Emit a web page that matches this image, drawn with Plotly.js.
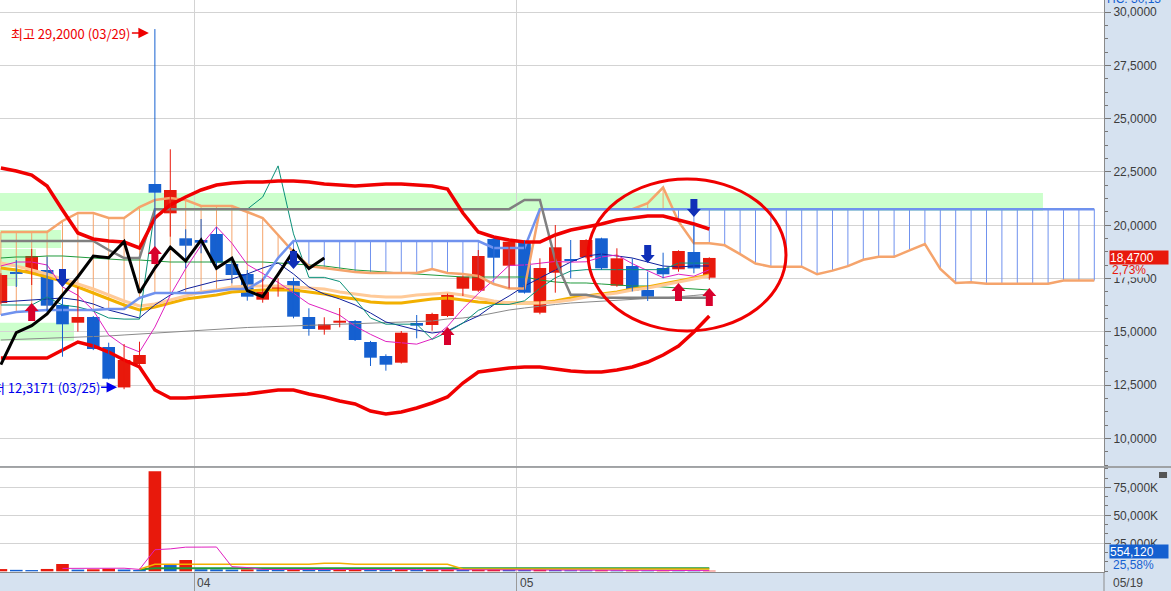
<!DOCTYPE html>
<html><head><meta charset="utf-8">
<script src="https://cdn.plot.ly/plotly-3.0.1.min.js"></script>
<style>html,body{margin:0;padding:0;background:#d6e2f0;}#chart{width:1171px;height:591px;}</style>
</head><body><div id="chart"></div>
<script>
// ---- candle data (price units) ----
const openP  = [16.358,17.780,17.764,17.905,16.264,15.434,15.702,14.295,12.400,13.498,21.937,20.563,19.391,19.311,19.592,18.186,17.717,16.513,16.935,17.389,15.702,15.107,15.434,15.514,14.530,13.873,13.560,15.420,15.327,15.749,17.028,16.935,19.358,18.107,19.264,15.903,17.778,18.420,18.500,19.391,17.169,18.092,16.967,18.000,17.938,18.749,17.544];
const highP  = [17.750,18.374,18.889,18.528,16.827,17.108,15.750,14.497,14.436,14.544,29.200,23.563,19.813,20.296,19.907,18.514,17.905,17.516,17.516,17.547,16.109,15.688,16.124,15.560,14.580,13.953,15.045,15.795,15.900,16.800,17.650,18.842,19.400,19.311,19.300,18.453,20.014,19.311,19.350,19.420,18.922,18.453,17.825,18.716,18.830,20.000,18.500];
const lowP   = [16.300,17.108,17.202,15.950,13.840,15.015,14.150,12.780,12.3171,13.450,18.500,19.467,17.985,18.688,17.938,17.281,16.466,16.372,16.654,15.640,14.825,14.872,15.219,14.576,13.405,13.184,13.520,14.703,15.059,15.700,16.686,16.880,17.563,17.047,16.800,15.828,16.841,17.516,18.450,17.905,17.120,16.900,16.451,17.516,17.825,17.750,17.450];
const closeP = [17.671,17.720,18.561,16.232,15.359,15.702,14.201,12.809,13.686,13.920,21.529,21.656,19.044,19.185,18.247,17.671,16.654,16.889,17.188,15.716,15.140,15.359,15.528,14.623,13.794,13.466,14.966,15.294,15.842,16.733,17.591,18.561,18.481,19.232,16.841,18.000,18.969,18.327,19.311,17.985,18.453,16.935,16.654,17.704,18.795,17.979,18.470];
// volume in thousands of shares
const volumeK = [2000,1300,1100,2100,6500,1500,1800,2400,1600,1200,89300,5600,10100,1800,1700,1500,1700,1600,1400,1600,1500,1400,1500,1600,1500,1300,1800,1400,1500,1600,1400,1500,1700,1500,1300,1400,1200,1000,900,1000,800,900,700,800,600,441.25,554.12];
const volMA20 = [null,null,null,null,null,null,null,null,null,1800,6250,6250,6250,6250,6250,6250,6250,6250,6250,6250,6250,7100,7100,6250,6250,6250,6250,6250,6250,6250,2000,2000,2000,2000,2000,2000,2000,2000,2000,2000,2000,2000,2000,2000,2000,2000,2000];
const volMA60 = [null,null,null,null,null,null,null,null,null,1700,2700,2700,2700,2700,2700,2700,2700,2700,2700,2700,2700,2700,2700,2700,2700,2700,2700,2700,2700,2700,2700,2700,2700,2700,2700,2700,2700,2700,2700,2700,2700,2700,2700,2700,2700,2700,2700];

// ---- indicator lines ----
const bbUpper = [22.687,22.547,22.359,21.843,20.718,19.640,19.359,19.265,19.218,18.937,20.343,20.953,21.328,21.656,21.890,21.984,22.031,22.031,22.078,22.078,22.031,21.937,21.890,21.843,21.890,21.937,21.937,21.890,21.843,21.703,20.578,19.687,19.452,19.312,19.218,19.218,19.546,19.781,19.921,20.062,20.249,20.343,20.437,20.437,20.249,20.062,19.828];
const bbLower = [13.780,13.780,13.780,13.780,14.155,14.530,14.343,14.061,13.686,13.358,12.280,11.905,11.905,11.952,11.999,12.045,12.092,12.186,12.280,12.280,12.092,11.952,11.764,11.623,11.295,11.155,11.248,11.436,11.670,11.952,12.608,13.124,13.217,13.311,13.358,13.358,13.264,13.171,13.124,13.124,13.217,13.358,13.592,13.921,14.343,14.999,15.749];
const tenkan = [16.264,16.264,16.264,16.640,16.264,16.170,15.982,15.656,15.603,15.603,20.758,20.758,20.758,20.758,20.758,20.758,20.758,21.325,22.786,19.601,17.560,17.560,17.366,16.545,15.655,15.365,15.365,15.365,14.654,14.992,15.417,16.013,16.292,16.292,16.460,17.051,17.536,17.857,17.921,17.921,17.921,17.921,17.921,17.921,18.232,18.226,18.226];
const kijun = [19.264,19.264,19.264,19.264,19.264,19.264,19.264,18.842,18.467,18.467,20.758,20.758,20.758,20.758,20.758,20.758,20.758,20.758,20.758,20.758,20.758,20.758,20.758,20.758,20.758,20.758,20.758,20.758,20.758,20.758,20.758,20.758,20.758,20.758,21.192,21.192,18.373,16.740,16.740,16.599,16.599,16.599,16.599,16.599,16.599,16.599,16.599];
const spanA = [19.687,19.687,19.687,19.687,20.203,20.578,20.578,20.343,20.343,20.859,21.187,21.281,21.187,20.906,20.906,20.906,20.624,20.343,19.546,18.749,18.093,17.999,17.905,17.811,17.765,17.764,17.764,17.764,17.952,17.764,17.717,17.623,17.249,17.035,17.035,20.758,20.758,20.758,20.758,20.758,20.758,20.758,21.042,21.772,20.180,19.159,19.159,19.062,18.652,18.207,18.062,18.062,18.062,17.706,17.875,18.088,18.386,18.525,18.525,18.826,19.122,17.955,17.299,17.331,17.260,17.260,17.260,17.260,17.260,17.416,17.412,17.412];
const spanB = [15.796,15.936,15.983,16.030,16.030,16.030,16.030,16.077,16.077,16.593,16.827,16.827,16.827,16.827,16.921,17.015,17.015,17.437,18.468,19.265,19.265,19.265,19.265,19.265,19.265,19.265,19.265,19.265,19.265,19.265,19.265,19.265,18.937,18.937,18.937,20.758,20.758,20.758,20.758,20.758,20.758,20.758,20.758,20.758,20.758,20.758,20.758,20.758,20.758,20.758,20.758,20.758,20.758,20.758,20.758,20.758,20.758,20.758,20.758,20.758,20.758,20.758,20.758,20.758,20.758,20.758,20.758,20.758,20.758,20.758,20.758,20.758];
const ma5 = [18.093,18.280,18.280,18.140,17.113,16.719,16.011,14.861,14.351,14.064,15.229,16.720,17.967,19.067,19.932,19.161,18.160,17.729,17.330,16.824,16.317,16.058,15.786,15.273,14.889,14.554,14.475,14.429,14.672,15.260,16.085,16.804,17.442,18.120,18.141,18.223,18.305,18.274,18.290,18.518,18.609,18.202,17.868,17.546,17.708,17.613,17.920];
const maNavy = [16.405,16.452,16.499,16.546,16.593,16.499,16.311,16.030,15.843,15.655,16.265,16.733,17.015,17.202,17.390,17.483,17.718,17.999,18.234,17.718,17.108,16.780,16.546,16.265,15.890,15.468,15.280,15.093,14.952,15.046,15.421,15.749,16.265,16.687,17.155,17.530,17.905,18.280,18.562,18.655,18.562,18.468,18.280,18.093,18.046,18.093,18.093];
const maGreen = [18.468,18.515,18.515,18.562,18.562,18.515,18.468,18.421,18.374,18.374,18.327,18.280,18.280,18.280,18.280,18.280,18.280,18.280,18.234,18.187,18.140,18.093,17.999,17.905,17.858,17.811,17.765,17.718,17.671,17.624,17.577,17.577,17.577,17.577,17.577,17.437,17.343,17.296,17.296,17.249,17.202,17.155,17.155,17.108,17.062,17.015,16.968];
const maGold = [17.999,17.905,17.765,17.577,17.390,17.108,16.827,16.546,16.265,16.030,16.171,16.358,16.546,16.640,16.733,16.874,16.921,16.968,16.968,16.968,16.874,16.780,16.640,16.546,16.405,16.358,16.358,16.452,16.546,16.593,16.499,16.405,16.358,16.358,16.358,16.358,16.452,16.593,16.687,16.780,16.874,17.015,17.108,17.249,17.390,17.530,17.671];
const maPeach = [18.234,18.093,17.905,17.718,17.483,17.249,17.015,16.733,16.452,16.218,16.311,16.499,16.687,16.874,16.968,17.108,17.155,17.155,17.155,17.108,17.062,17.015,16.874,16.780,16.687,16.640,16.640,16.733,16.780,16.827,16.733,16.593,16.452,16.358,16.358,16.358,16.405,16.499,16.640,16.733,16.827,16.968,17.062,17.202,17.343,17.483,17.624];
const maLong = [14.624,14.648,14.671,14.695,14.718,14.742,14.765,14.812,14.859,14.906,14.952,14.999,15.046,15.093,15.140,15.187,15.210,15.234,15.257,15.280,15.327,15.351,15.374,15.397,15.421,15.421,15.444,15.468,15.515,15.609,15.655,15.749,15.890,16.030,16.124,16.218,16.288,16.358,16.405,16.452,16.499,16.546,16.569,16.593,16.640,16.710,16.780];

// volume-by-price bands
const profLow  = [20.671,18.937,18.046,17.155,14.592];
const profHigh = [21.515,19.780,18.890,17.999,15.436];
const profLen  = [0.9447,0.0553,0.0326,0.0163,0.0670];

// signals
const buyIdx = [2,10,29,44,46];
const buyPrice = [16.358,19.031,15.233,17.296,17.062];
const sellIdx = [4,19,42,45];
const sellPrice = [17.108,17.952,18.234,20.390];

const laggingShift = 25;
const highDate = '03/29', lowDate = '03/25', lastDate = '05/19';
const monthTickPos = [12.55, 33.5];
const monthTickText = ['04','05'];
const priceTicks = [10,12.5,15,17.5,20,22.5,25,27.5,30];
const volTicks = [25000,50000,75000];

// ---- build ----
const RED='#e8190c', BLUE='#1560d0';
const n = closeP.length;
const idx=[]; for(let i=0;i<n;i++) idx.push(i);
const idxAll=[]; for(let i=0;i<spanA.length;i++) idxAll.push(i);
const fmtP = v => v.toFixed(4).replace('.', ',');
const fmtPct = v => v.toFixed(2).replace('.', ',') + '%';

const traces=[];
// cloud hatch
const hoX=[],hoY=[],hbX=[],hbY=[];
for(let i=0;i<spanA.length;i++){
  if(spanA[i]>spanB[i]){hoX.push(i,i,null);hoY.push(spanA[i],spanB[i],null);}
  else if(spanB[i]>spanA[i]){hbX.push(i,i,null);hbY.push(spanA[i],spanB[i],null);}
}
const line=(x,y,color,width,yaxis)=>({type:'scatter',mode:'lines',x:x,y:y,line:{color:color,width:width},yaxis:yaxis||'y',hoverinfo:'skip',connectgaps:false});
traces.push(line(hoX,hoY,'#f5a46c',1));
traces.push(line(hbX,hbY,'#7092ee',1));
traces.push(line(idx,maLong,'#8a8a8a',1));
traces.push(line(idx,maGreen,'#1f9a3c',1));
traces.push(line(idx,maGold,'#f2b000',3));
traces.push(line(idx,maPeach,'#ffca98',3));
traces.push(line(idx,maNavy,'#10209c',1));
traces.push(line(idx,ma5,'#e020c0',1));
traces.push(line(idx,tenkan,'#0a9078',1));
traces.push(line(idxAll,spanA,'#f5a46c',2.5));
traces.push(line(idxAll,spanB,'#7092ee',2.5));
traces.push(line(idx,kijun,'#808080',2.5));
traces.push(line(idx,bbUpper,'#f00000',3.5));
traces.push(line(idx,bbLower,'#f00000',3.5));
// wicks
const wuX=[],wuY=[],wdX=[],wdY=[];
for(let i=0;i<n;i++){
  if(closeP[i]>=openP[i]){wuX.push(i,i,null);wuY.push(lowP[i],highP[i],null);}
  else {wdX.push(i,i,null);wdY.push(lowP[i],highP[i],null);}
}
traces.push(line(wuX,wuY,RED,1));
traces.push(line(wdX,wdY,BLUE,1));
// bodies
traces.push({type:'bar',x:idx,base:idx.map(i=>Math.min(openP[i],closeP[i])),
  y:idx.map(i=>Math.max(Math.abs(closeP[i]-openP[i]),0.09)),width:0.82,
  marker:{color:idx.map(i=>closeP[i]>=openP[i]?RED:BLUE),line:{width:0}},yaxis:'y',hoverinfo:'skip'});
// lagging span
const lagX=[],lagY=[];
for(let i=0;i+laggingShift<n;i++){lagX.push(i);lagY.push(closeP[i+laggingShift]);}
traces.push(line(lagX,lagY,'#000000',3));
// volume
traces.push({type:'bar',x:idx,y:volumeK,width:0.82,yaxis:'y2',
  marker:{color:idx.map(i=>(i===0||volumeK[i]>=volumeK[i-1])?RED:BLUE),line:{width:0}},hoverinfo:'skip'});
const vma5=idx.map(i=>{if(i<4)return null;let s=0;for(let k=i-4;k<=i;k++)s+=volumeK[k];return s/5;});
traces.push(line(idx,volMA60,'#1f9a3c',2,'y2'));
traces.push(line(idx,volMA20,'#f2b000',1.5,'y2'));
traces.push(line(idx,vma5,'#e020c0',1,'y2'));

// shapes
const shapes=[];
for(let k=0;k<profLow.length;k++){
  shapes.push({type:'rect',xref:'paper',yref:'y',x0:0,x1:profLen[k],y0:profLow[k],y1:profHigh[k],fillcolor:'#ccffcc',line:{width:0},layer:'below'});
}
const upPath='M0,0 L7,-8 L3.5,-8 L3.5,-18 L-3.5,-18 L-3.5,-8 L-7,-8 Z';
const dnPath='M0,0 L7,8 L3.5,8 L3.5,18 L-3.5,18 L-3.5,8 L-7,8 Z';
buyIdx.forEach((b,k)=>shapes.push({type:'path',xref:'x',yref:'y',xsizemode:'pixel',ysizemode:'pixel',xanchor:b,yanchor:buyPrice[k],path:upPath,fillcolor:'#d8002c',line:{width:0}}));
sellIdx.forEach((b,k)=>shapes.push({type:'path',xref:'x',yref:'y',xsizemode:'pixel',ysizemode:'pixel',xanchor:b,yanchor:sellPrice[k],path:dnPath,fillcolor:'#1030b8',line:{width:0}}));
// hand-drawn ellipse
shapes.push({type:'circle',xref:'x',yref:'y',x0:38.13,x1:50.98,y0:15.046,y1:22.171,line:{color:'#f00000',width:3}});
// panel separator & strip lines
shapes.push({type:'line',xref:'paper',yref:'paper',x0:0,x1:1.061,y0:0.1836,y1:0.1836,line:{color:'#8c8c8c',width:1.5}});
shapes.push({type:'line',xref:'paper',yref:'paper',x0:1,x1:1,y0:-0.034,y1:0,line:{color:'#8c8c8c',width:1}});
shapes.push({type:'rect',xref:'paper',yref:'paper',x0:1.0498,x1:1.0571,y0:0.1643,y1:0.1748,fillcolor:'#555555',line:{width:0}});

// annotations
let hiI=0,loI=0;
for(let i=0;i<n;i++){if(highP[i]>highP[hiI])hiI=i;if(lowP[i]<lowP[loI])loI=i;}
const lastC=closeP[n-1], prevC=closeP[n-2];
const lastV=volumeK[n-1], prevV=volumeK[n-2];
const ann=[
 {x:hiI,y:highP[hiI],xref:'x',yref:'y',text:'최고 '+fmtP(highP[hiI])+' ('+highDate+')',showarrow:true,arrowhead:2,arrowsize:1.4,arrowwidth:1.5,arrowcolor:'#ee0000',ax:-78,ay:0,xshift:-6,yshift:-4,font:{family:'Noto Sans CJK KR',size:13,color:'#ee0000'}},
 {x:loI,y:lowP[loI],xref:'x',yref:'y',text:'최저 '+fmtP(lowP[loI])+' ('+lowDate+')',showarrow:true,arrowhead:2,arrowsize:1.4,arrowwidth:1.5,arrowcolor:'#0000ee',ax:-77,ay:0,xshift:-7,yshift:2,font:{family:'Noto Sans CJK KR',size:13,color:'#0000ee'}},
 {x:1,xref:'paper',xanchor:'left',xshift:7,y:lastC,yref:'y',yshift:-12,text:fmtPct((lastC/prevC-1)*100),showarrow:false,font:{family:'Liberation Sans',size:12,color:RED},bgcolor:'#d6e2f0',borderpad:0},
 {x:1,xref:'paper',xanchor:'left',xshift:5,y:lastC,yref:'y',text:fmtP(lastC),showarrow:false,font:{family:'Liberation Sans',size:12,color:'#ffffff'},bgcolor:RED,width:58,height:13,align:'left',borderpad:0},
 {x:1,xref:'paper',xanchor:'left',xshift:5,y:lastV,yref:'y2',yshift:19,text:Math.round(lastV*1000).toLocaleString('en-US'),showarrow:false,font:{family:'Liberation Sans',size:12,color:'#ffffff'},bgcolor:BLUE,width:58,height:13,align:'left',borderpad:0},
 {x:1,xref:'paper',xanchor:'left',xshift:7,y:lastV,yref:'y2',yshift:6,text:fmtPct((lastV/prevV-1)*100),showarrow:false,font:{family:'Liberation Sans',size:12,color:BLUE}},
 {x:1,xref:'paper',xanchor:'left',xshift:7,y:0,yref:'paper',yanchor:'top',yshift:-2,text:lastDate,showarrow:false,font:{family:'Liberation Sans',size:12,color:'#444'}},
 {x:1,xref:'paper',xanchor:'left',xshift:1,y:1,yref:'paper',yanchor:'middle',yshift:1,text:'HC: 30,13',showarrow:false,font:{family:'Liberation Sans',size:12,color:BLUE}}
];
monthTickPos.forEach((p,k)=>ann.push({x:p,xref:'x',xanchor:'left',xshift:1,y:0,yref:'paper',yanchor:'top',yshift:-2,text:monthTickText[k],showarrow:false,font:{family:'Liberation Sans',size:12,color:'#444'}}));

const tickFont={family:'Liberation Sans',size:12,color:'#3c3c3c'};
const layout={
 width:1171,height:591,margin:{l:0,r:67,t:0,b:19,pad:0},
 paper_bgcolor:'#d6e2f0',plot_bgcolor:'#ffffff',showlegend:false,barmode:'overlay',
 xaxis:{range:[-0.058,71.63],anchor:'y2',showgrid:true,gridcolor:'#d3d3d3',tickmode:'array',tickvals:monthTickPos,showticklabels:false,ticks:'outside',ticklen:19,tickcolor:'#9a9a9a',showline:true,linecolor:'#8a8a8a',zeroline:false,fixedrange:true},
 yaxis:{domain:[0.1853,1],range:[8.716,30.563],side:'right',anchor:'x',showgrid:true,gridcolor:'#d3d3d3',tickmode:'array',tickvals:priceTicks,ticktext:priceTicks.map(fmtP),ticks:'outside',ticklen:6,tickcolor:'#777',showline:true,linecolor:'#8a8a8a',zeroline:false,tickfont:tickFont,minor:{tickmode:'linear',tick0:10,dtick:0.625,ticklen:3,tickcolor:'#777',showgrid:false}},
 yaxis2:{domain:[0,0.183],range:[-625,92872],side:'right',anchor:'x',showgrid:true,gridcolor:'#d3d3d3',tickmode:'array',tickvals:volTicks,ticktext:volTicks.map(v=>v.toLocaleString('en-US')+'K'),ticks:'outside',ticklen:6,tickcolor:'#777',showline:true,linecolor:'#8a8a8a',zeroline:false,tickfont:tickFont,minor:{tickmode:'linear',tick0:0,dtick:8333.33,ticklen:3,tickcolor:'#777',showgrid:false}},
 shapes:shapes,annotations:ann
};
Plotly.newPlot('chart',traces,layout,{displayModeBar:false,staticPlot:true});
</script></body></html>
